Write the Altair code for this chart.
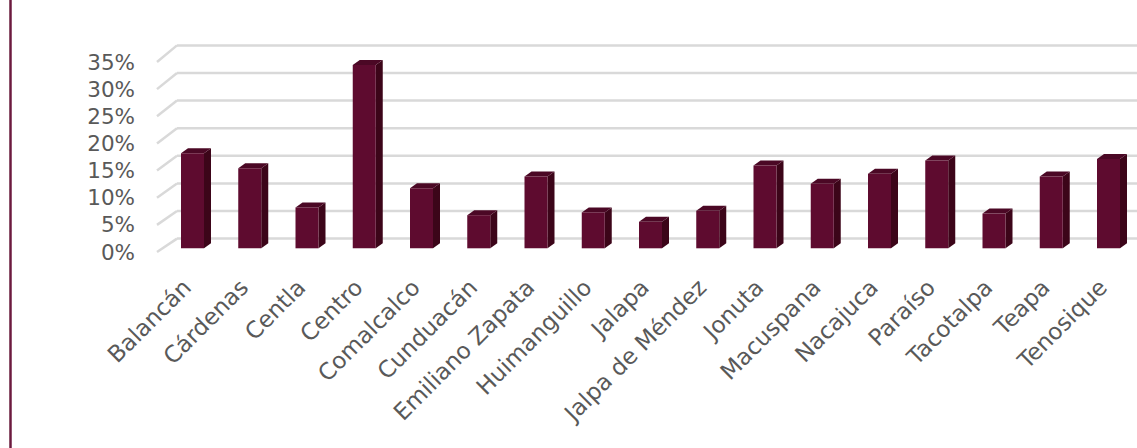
import altair as alt
import pandas as pd

# Share of each municipality (%)
municipios = [
    "Balancán", "Cárdenas", "Centla", "Centro", "Comalcalco", "Cunduacán",
    "Emiliano Zapata", "Huimanguillo", "Jalapa", "Jalpa de Méndez", "Jonuta",
    "Macuspana", "Nacajuca", "Paraíso", "Tacotalpa", "Teapa", "Tenosique",
]
porcentajes = [17.2, 14.5, 7.4, 33.2, 10.9, 6.0, 13.0, 6.5, 4.8, 6.8,
               15.0, 11.7, 13.5, 15.9, 6.3, 13.0, 16.2]
ticks = [0, 5, 10, 15, 20, 25, 30, 35]

# ---- canvas and pseudo-3D frame geometry (pixels) ----
W, H = 1137, 448
STEP = 57.25          # px between category centres
PX_PCT = 5.52         # px per percentage point
X_FIRST = 192.5       # px centre of the first column's front face
Y_BASE = 248.3        # px baseline of the column front faces


def ux(px):
    return px / STEP


def uy(px):
    return px / PX_PCT


HALF = ux(11.5)            # half width of a column front face
DEPTH_X, DEPTH_Y = ux(7), uy(5)   # column depth (oblique projection)
WALL_DY = uy(9.7)          # back wall lies above the column fronts
WALL_X = ux(177 - X_FIRST)
EDGE_X = ux(157 - X_FIRST)

xs = alt.Scale(domain=[ux(-X_FIRST), ux(W - X_FIRST)], nice=False, zero=False)
ys = alt.Scale(domain=[-uy(H - Y_BASE), uy(Y_BASE)], nice=False, zero=False)

FONT = "DejaVu Sans"
TEXT = "#595959"
FRONT, SIDE, TOP = "#5E0B2F", "#3C0519", "#4B0825"
GRID = "#D9D9D9"

bars = pd.DataFrame({"i": range(len(municipios)), "m": municipios, "v": porcentajes})
bars["x1"] = bars["i"] - HALF
bars["x2"] = bars["i"] + HALF

side_rows, top_rows = [], []
for i, v in zip(bars["i"], bars["v"]):
    r = i + HALF
    l = i - HALF
    side_rows += [
        {"k": i, "x": r, "y": v, "y2": 0},
        {"k": i, "x": r + DEPTH_X, "y": v + DEPTH_Y, "y2": DEPTH_Y},
    ]
    top_rows += [
        {"k": i, "x": l, "y": v, "y2": v},
        {"k": i, "x": l + DEPTH_X, "y": v + DEPTH_Y, "y2": v},
        {"k": i, "x": r, "y": v + DEPTH_Y, "y2": v},
        {"k": i, "x": r + DEPTH_X, "y": v + DEPTH_Y, "y2": v + DEPTH_Y},
    ]
side = pd.DataFrame(side_rows)
top = pd.DataFrame(top_rows)

grid = pd.DataFrame({"t": ticks})
grid["back"] = grid["t"] + WALL_DY
# the floor edge drops a little more toward the top (perspective)
grid["front"] = grid["back"] - uy(13.4) - uy(3.2) * grid["t"] / 35
grid["lab_y"] = grid["front"] - uy(1.5)
grid["xw"] = WALL_X
grid["xe"] = EDGE_X
grid["xr"] = ux(W - X_FIRST) + 1
grid["xl"] = ux(135 - X_FIRST)
grid["lab"] = grid["t"].astype(str) + "%"

bars["lx"] = bars["i"] - ux(5)
bars["ly"] = -uy(284 - Y_BASE)

X = lambda f: alt.X(f, type="quantitative", scale=xs, axis=None)
Y = lambda f: alt.Y(f, type="quantitative", scale=ys, axis=None)

wall = alt.Chart(grid).mark_rule(color=GRID, strokeWidth=2.5).encode(
    x=X("xw"), x2="xr", y=Y("back")
)
slant = alt.Chart(grid).mark_rule(color=GRID, strokeWidth=2.5).encode(
    x=X("xe"), x2="xw", y=Y("front"), y2="back"
)
ylabels = alt.Chart(grid).mark_text(
    align="right", baseline="middle", font=FONT, fontSize=21.5, color=TEXT
).encode(x=X("xl"), y=Y("lab_y"), text="lab:N")

front = alt.Chart(bars).mark_rect(color=FRONT).encode(
    x=X("x1"), x2="x2", y=Y("v"), y2=alt.datum(0)
)
sides = alt.Chart(side).mark_area(color=SIDE, interpolate="linear").encode(
    x=X("x"), y=Y("y"), y2="y2", detail="k:N"
)
tops = alt.Chart(top).mark_area(color=TOP, interpolate="linear").encode(
    x=X("x"), y=Y("y"), y2="y2", detail="k:N"
)
xlabels = alt.Chart(bars).mark_text(
    align="right", baseline="middle", angle=315, font=FONT, fontSize=23,
    color=TEXT
).encode(x=X("lx"), y=Y("ly"), text="m:N")

frame = alt.Chart(grid).mark_rule(color="#6B1A3E", strokeWidth=1.3).encode(
    x=alt.value(10.5), y=alt.value(0), y2=alt.value(H)
)

chart = alt.layer(
    frame, wall, slant, ylabels, sides, tops, front, xlabels
).properties(
    width=W, height=H, autosize=alt.AutoSizeParams(type="none"), padding=0,
    background="white",
).configure_view(stroke=None)

chart.save("out.html", embed_options={"renderer": "svg", "actions": False})
